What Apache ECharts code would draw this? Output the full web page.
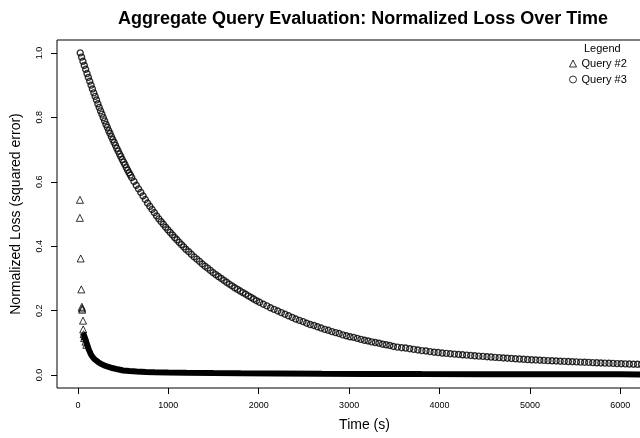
<!DOCTYPE html>
<html>
<head>
<meta charset="utf-8">
<script src="https://cdn.jsdelivr.net/npm/echarts@6/dist/echarts.min.js"></script>
<style>
  html, body { margin: 0; padding: 0; background: #fff; }
  #chart { width: 640px; height: 438px; }
</style>
</head>
<body>
<div id="chart"></div>
<script>
// tick positions
const xTicks = [0, 1000, 2000, 3000, 4000, 5000, 6000]
const yTicks = [0, 0.2, 0.4, 0.6, 0.8, 1.0]

// Query #2: early scattered points [time, loss]
const q2Early = [
  [22, 0.544], [21, 0.488], [30, 0.362], [37, 0.266], [43, 0.212], [45, 0.207], [47, 0.203],
  [56, 0.169], [58, 0.142], [62, 0.127], [68, 0.115], [74, 0.121], [83, 0.104], [92, 0.094],
]

// Query #2: dense trail [time, loss]
const q2Trail = [
  [55, 0.131], [62, 0.127], [70, 0.121], [78, 0.116], [86, 0.108], [95, 0.100], [105, 0.091],
  [115, 0.083], [125, 0.076], [138, 0.068], [150, 0.061], [165, 0.055], [180, 0.050], [200, 0.045],
  [225, 0.040], [255, 0.035], [290, 0.030], [330, 0.026], [380, 0.022], [440, 0.018], [500, 0.0145],
  [570, 0.0125], [650, 0.011], [750, 0.0098], [850, 0.0088], [1000, 0.0078], [1200, 0.007],
  [1500, 0.0062], [1800, 0.0056], [2200, 0.005], [2700, 0.0043], [3200, 0.0038], [3800, 0.0033],
  [4500, 0.0029], [5200, 0.0026], [6000, 0.0023], [6330, 0.0022],
]

// Query #3 [time, loss]
const q3Points = [
  [25, 1.000], [40, 0.987], [55, 0.974], [70, 0.961], [85, 0.949], [100, 0.936], [115, 0.924],
  [130, 0.912], [145, 0.900], [160, 0.888], [175, 0.876], [190, 0.865], [205, 0.854], [220, 0.842],
  [235, 0.831], [250, 0.820], [265, 0.810], [280, 0.799], [295, 0.789],
  [310, 0.778], [325, 0.769], [340, 0.759], [355, 0.750], [370, 0.740], [385, 0.731], [400, 0.722],
  [415, 0.713], [430, 0.704], [445, 0.695], [460, 0.686], [475, 0.678], [490, 0.669], [505, 0.661],
  [520, 0.653], [535, 0.644], [550, 0.636], [565, 0.628], [580, 0.621], [595, 0.613],
  [620, 0.601], [645, 0.589], [670, 0.578], [695, 0.567], [720, 0.556], [745, 0.545], [770, 0.534],
  [795, 0.524], [820, 0.514], [845, 0.504], [870, 0.494], [895, 0.485],
  [920, 0.476], [945, 0.468], [970, 0.459], [995, 0.451], [1020, 0.443], [1045, 0.435], [1070, 0.427],
  [1095, 0.420], [1120, 0.412], [1145, 0.405], [1170, 0.398], [1195, 0.390],
  [1225, 0.383], [1255, 0.375], [1285, 0.367], [1315, 0.360], [1345, 0.353], [1375, 0.345],
  [1405, 0.338], [1435, 0.332], [1465, 0.325], [1495, 0.318], [1525, 0.312], [1555, 0.306], [1585, 0.300],
  [1615, 0.294], [1645, 0.288], [1675, 0.282], [1705, 0.277], [1735, 0.271], [1765, 0.266],
  [1795, 0.261], [1825, 0.256], [1855, 0.251], [1885, 0.246], [1915, 0.241], [1945, 0.236], [1975, 0.231],
  [2010, 0.226], [2050, 0.220], [2090, 0.215], [2130, 0.209], [2170, 0.204], [2210, 0.199],
  [2250, 0.194], [2290, 0.189], [2330, 0.184], [2370, 0.179], [2410, 0.174], [2450, 0.170], [2490, 0.166],
  [2530, 0.161], [2570, 0.157], [2610, 0.154], [2650, 0.150], [2690, 0.146], [2730, 0.142],
  [2770, 0.139], [2810, 0.135], [2850, 0.132], [2890, 0.129], [2930, 0.125], [2970, 0.122],
  [3010, 0.119], [3050, 0.117], [3090, 0.114], [3130, 0.111], [3170, 0.108], [3210, 0.106],
  [3250, 0.103], [3290, 0.101], [3330, 0.099], [3370, 0.096], [3410, 0.094], [3450, 0.092], [3490, 0.089],
  [3535, 0.087], [3580, 0.085], [3625, 0.084], [3670, 0.082], [3715, 0.080], [3760, 0.078],
  [3805, 0.076], [3850, 0.075], [3895, 0.073], [3940, 0.071], [3985, 0.070],
  [4030, 0.0685], [4075, 0.0674], [4120, 0.0663], [4165, 0.0652], [4210, 0.0641], [4255, 0.0630],
  [4300, 0.0620], [4345, 0.0610], [4390, 0.0600], [4435, 0.0590], [4480, 0.0580], [4525, 0.0570],
  [4570, 0.0561], [4615, 0.0551], [4660, 0.0542], [4705, 0.0533], [4750, 0.0525], [4795, 0.0516],
  [4840, 0.0507], [4885, 0.0499], [4930, 0.0491], [4975, 0.0483],
  [5020, 0.0475], [5065, 0.0469], [5110, 0.0463], [5155, 0.0456], [5200, 0.0450], [5245, 0.0444],
  [5290, 0.0438], [5335, 0.0432], [5380, 0.0427], [5425, 0.0421], [5470, 0.0415], [5515, 0.0410],
  [5560, 0.0404], [5605, 0.0399], [5650, 0.0394], [5695, 0.0388], [5740, 0.0383], [5785, 0.0378],
  [5830, 0.0373], [5875, 0.0368], [5920, 0.0363], [5965, 0.0358], [6010, 0.0353], [6055, 0.0349],
  [6100, 0.0344], [6145, 0.0339], [6190, 0.0335], [6235, 0.0330], [6280, 0.0326], [6325, 0.0321],
]

const font = 'Liberation Sans'
const hollow = { color: 'rgba(0,0,0,0)', borderColor: '#000', borderWidth: 1 }

const chart = echarts.init(document.getElementById('chart'))
chart.setOption({
  animation: false,
  textStyle: { fontFamily: font, color: '#000' },
  title: [
    {
      text: 'Aggregate Query Evaluation: Normalized Loss Over Time',
      left: 363,
      top: 10,
      padding: 0,
      textAlign: 'center',
      textStyle: { fontFamily: font, fontSize: 18, fontWeight: 'bold', color: '#000' },
    },
    {
      text: 'Legend',
      left: 584,
      top: 43,
      padding: 0,
      textStyle: { fontFamily: font, fontSize: 11, fontWeight: 'normal', color: '#000' },
    },
  ],
  legend: {
    orient: 'vertical',
    left: 569,
    top: 58,
    padding: 0,
    itemWidth: 7,
    itemHeight: 7,
    itemGap: 5,
    textStyle: { fontFamily: font, fontSize: 11, color: '#000' },
    data: [
      { name: 'Query #2', icon: 'triangle', itemStyle: hollow },
      { name: 'Query #3', icon: 'circle', itemStyle: hollow },
    ],
  },
  grid: {
    show: true,
    left: 57,
    top: 40,
    width: 615,
    height: 348,
    outerBoundsMode: 'none',
    borderColor: '#000',
    borderWidth: 1,
    backgroundColor: 'transparent',
  },
  xAxis: {
    type: 'value',
    min: -232,
    max: 6572,
    name: 'Time (s)',
    nameLocation: 'middle',
    nameGap: 30,
    nameTextStyle: { fontFamily: font, fontSize: 14, color: '#000' },
    axisLine: { show: false, onZero: false },
    splitLine: { show: false },
    axisTick: { show: true, length: 6, customValues: xTicks, lineStyle: { color: '#000' } },
    axisLabel: {
      customValues: xTicks,
      fontSize: 9,
      margin: 13,
      color: '#000',
      formatter: (v) => String(v),
    },
  },
  yAxis: {
    type: 'value',
    min: -0.04,
    max: 1.04,
    name: 'Normalized Loss (squared error)',
    nameLocation: 'middle',
    nameGap: 34,
    nameTextStyle: { fontFamily: font, fontSize: 14, color: '#000' },
    axisLine: { show: false, onZero: false },
    splitLine: { show: false },
    axisTick: { show: true, length: 6, customValues: yTicks, lineStyle: { color: '#000' } },
    axisLabel: {
      customValues: yTicks,
      rotate: 90,
      fontSize: 9,
      margin: 13,
      color: '#000',
      formatter: (v) => v.toFixed(1),
    },
  },
  series: [
    {
      name: 'Query #2',
      type: 'scatter',
      symbol: 'triangle',
      symbolSize: 7,
      itemStyle: hollow,
      silent: true,
      data: q2Early,
    },
    {
      name: 'Query #2',
      type: 'line',
      symbol: 'none',
      lineStyle: { color: '#000', width: 6 },
      silent: true,
      data: q2Trail,
    },
    {
      name: 'Query #3',
      type: 'scatter',
      symbol: 'circle',
      symbolSize: 6,
      itemStyle: { color: 'rgba(0,0,0,0)', borderColor: '#000', borderWidth: 1.4 },
      silent: true,
      data: q3Points,
    },
  ],
})
</script>
</body>
</html>
